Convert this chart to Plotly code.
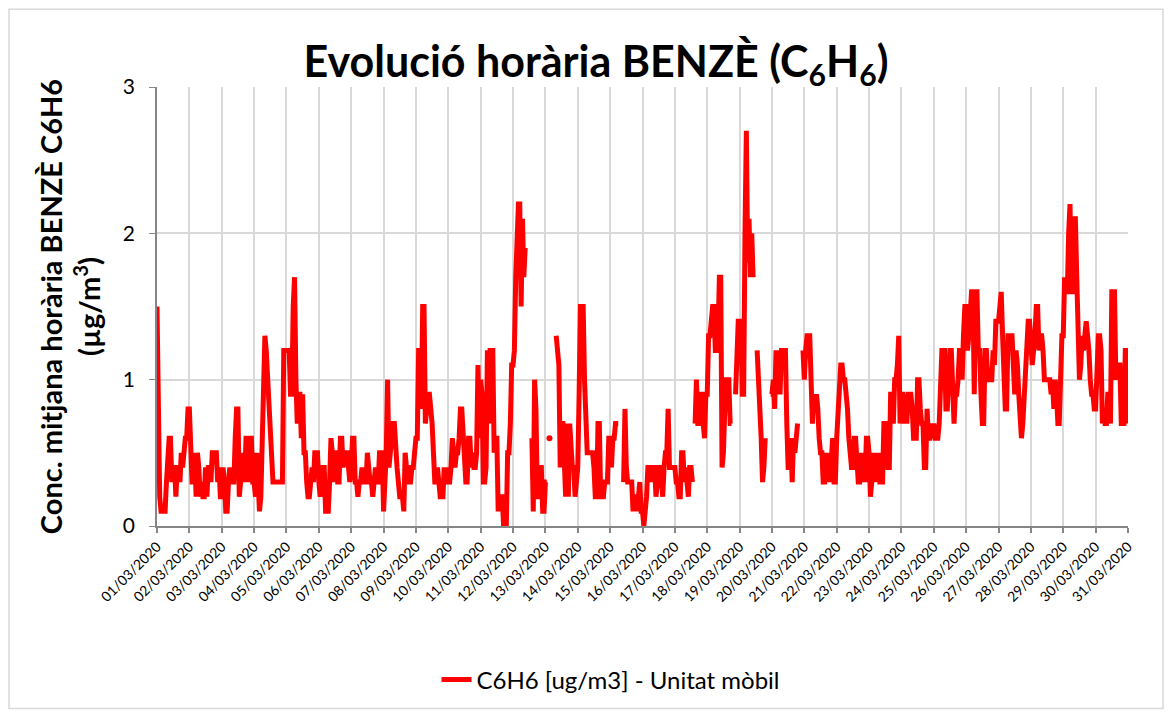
import plotly.graph_objects as go
import pandas as pd

# Hourly benzene concentrations (µg/m3), one list per day of March 2020
d01 = [1.5,0.3,0.2,0.1,0.1,0.1,0.1,0.3,0.5,0.6,0.6,0.3,0.4,0.4,0.2,0.4,0.4,0.3,0.5,0.4,0.5,0.6,0.6,0.8]
d02 = [0.8,0.5,0.3,0.3,0.5,0.2,0.5,0.4,0.2,0.3,0.2,0.2,0.4,0.2,0.4,0.4,0.3,0.5,0.5,0.5,0.5,0.3,0.4,0.2]
d03 = [0.2,0.4,0.3,0.1,0.1,0.3,0.4,0.3,0.3,0.3,0.6,0.8,0.8,0.2,0.3,0.5,0.4,0.3,0.6,0.6,0.3,0.6,0.6,0.3]
d04 = [0.3,0.2,0.5,0.3,0.1,0.2,0.6,1.0,1.3,1.2,1.0,0.8,0.6,0.4,0.3,0.3,0.3,0.3,0.3,0.3,0.3,0.3,1.2,1.2]
d05 = [1.2,1.2,1.2,0.9,0.9,1.5,1.7,1.0,0.7,0.9,0.9,0.6,0.9,0.5,0.5,0.3,0.2,0.2,0.3,0.4,0.3,0.5,0.5,0.5]
d06 = [0.3,0.2,0.3,0.4,0.4,0.1,0.1,0.1,0.3,0.6,0.5,0.3,0.5,0.5,0.3,0.3,0.6,0.6,0.4,0.5,0.5,0.5,0.4,0.3]
d07 = [0.4,0.6,0.6,0.3,0.3,0.2,0.3,0.3,0.4,0.3,0.3,0.3,0.5,0.4,0.3,0.3,0.2,0.3,0.4,0.3,0.3,0.5,0.5,0.5]
d08 = [0.1,0.3,0.5,1.0,0.4,0.5,0.6,0.7,0.7,0.5,0.4,0.3,0.2,0.2,0.2,0.1,0.5,0.4,0.4,0.3,0.3,0.4,0.4,0.5]
d09 = [0.6,0.6,1.2,1.2,0.8,1.5,1.5,0.7,0.8,0.9,0.9,0.8,0.7,0.5,0.3,0.3,0.4,0.3,0.2,0.2,0.2,0.4,0.3,0.4]
d10 = [0.3,0.3,0.4,0.6,0.5,0.4,0.5,0.5,0.6,0.8,0.8,0.6,0.5,0.3,0.3,0.6,0.6,0.4,0.5,0.4,0.4,0.5,1.1,0.6]
d11 = [1.0,0.9,0.3,0.3,0.4,1.2,0.7,1.2,1.2,1.2,0.5,0.6,0.6,0.1,0.2,0.2,0.2,0.0,0.0,0.0,0.5,0.5,0.7,1.1]
d12 = [1.1,1.2,1.7,2.0,2.2,2.2,1.5,2.1,1.7,1.9,None,None,None,None,0.6,0.1,1.0,0.8,0.2,0.2,0.4,0.4,0.1,0.1]
d13 = [0.3,0.3,None,0.6,None,None,None,None,1.3,1.2,1.1,0.4,0.7,0.7,0.4,0.2,0.7,0.2,0.7,0.5,0.4,0.4,0.2,0.3]
d14 = [0.4,0.9,1.5,1.5,1.5,1.0,0.6,0.5,0.5,0.5,0.5,0.5,0.4,0.2,0.2,0.7,0.7,0.2,0.2,0.2,0.3,0.3,0.3,0.6]
d15 = [0.6,0.4,0.6,0.6,0.7,0.7,0.7,None,None,None,0.3,0.8,0.4,0.3,0.3,0.3,0.3,0.1,0.2,0.2,0.1,0.2,0.3,0.1]
d16 = [0.1,0.0,0.1,0.2,0.4,0.4,0.4,0.3,0.4,0.4,0.2,0.3,0.4,0.4,0.3,0.2,0.4,0.5,0.5,0.8,0.4,0.4,0.4,0.4]
d17 = [0.4,0.3,0.3,0.2,0.2,0.5,0.5,0.3,0.4,0.3,0.2,0.4,0.4,0.3,None,0.7,1.0,0.7,0.7,0.9,0.9,0.7,0.6,0.9]
d18 = [0.9,1.3,1.3,1.4,1.5,1.5,1.2,1.2,1.3,1.7,1.7,0.4,0.5,0.8,1.0,1.0,1.0,0.7,0.7,None,None,0.9,1.3,1.4]
d19 = [1.4,1.4,0.9,0.9,2.0,2.7,1.8,2.1,1.7,2.0,1.7,None,None,1.2,1.0,0.9,0.6,0.3,0.4,0.6,None,None,None,0.9]
d20 = [0.9,1.0,0.8,1.2,1.0,1.2,0.9,1.2,1.2,1.2,1.2,0.7,0.4,0.4,0.6,0.3,0.6,0.5,0.6,0.7,None,None,None,1.2]
d21 = [1.0,1.2,1.3,1.3,1.3,1.0,0.7,0.9,0.8,0.9,0.8,0.6,0.5,0.5,0.3,0.3,0.5,0.3,0.5,0.3,0.5,0.6,0.3,0.3]
d22 = [0.6,0.8,0.9,1.1,1.1,1.0,1.0,0.9,0.8,0.6,0.5,0.4,0.4,0.6,0.6,0.4,0.3,0.3,0.5,0.3,0.4,0.3,0.6,0.6]
d23 = [0.5,0.2,0.3,0.5,0.3,0.5,0.3,0.5,0.3,0.3,0.3,0.7,0.7,0.7,0.4,0.4,0.9,0.9,0.7,1.0,1.0,1.1,1.3,0.7]
d24 = [0.9,0.9,0.7,0.9,0.7,0.9,0.9,0.9,0.8,0.6,0.6,0.6,1.0,1.0,0.8,0.7,0.7,0.4,0.4,0.8,0.6,0.6,0.7,0.6]
d25 = [0.7,0.6,0.6,0.6,0.7,0.9,1.2,1.2,1.2,0.8,0.8,1.0,1.2,1.2,0.8,0.7,0.9,0.9,1.0,1.2,1.2,1.0,1.3,1.5]
d26 = [1.5,1.2,1.3,1.5,1.6,1.6,0.9,1.6,1.6,1.2,1.2,0.9,0.7,0.7,1.2,1.2,1.0,1.0,1.0,1.0,1.2,1.1,1.4,1.4]
d27 = [1.4,1.5,1.6,1.3,1.1,0.8,0.8,1.3,1.3,1.3,1.3,1.1,0.9,1.2,1.1,0.9,0.7,0.6,0.7,0.9,1.0,1.2,1.4,1.4]
d28 = [1.2,1.1,1.2,1.3,1.5,1.5,1.2,1.3,1.3,1.2,1.0,1.0,1.0,1.0,1.0,0.9,1.0,0.8,1.0,0.9,0.7,0.7,1.0,1.3]
d29 = [1.3,1.7,1.6,1.6,2.0,2.2,1.6,1.6,2.1,2.1,1.7,1.2,1.0,1.1,1.3,1.2,1.3,1.4,1.3,1.2,1.0,0.9,0.9,0.8]
d30 = [0.8,1.0,1.3,1.3,1.2,0.7,0.8,0.7,0.7,0.9,0.9,0.7,1.6,1.6,1.6,1.0,1.1,1.1,1.1,0.7,0.7,0.7,1.2,1.2]
d31 = [0.7]

days = [d01,d02,d03,d04,d05,d06,d07,d08,d09,d10,d11,d12,d13,d14,d15,
        d16,d17,d18,d19,d20,d21,d22,d23,d24,d25,d26,d27,d28,d29,d30,d31]
values = [v for d in days for v in d]
times = pd.date_range("2020-03-01 00:00", periods=len(values), freq="h")

day_ticks = pd.date_range("2020-03-01", "2020-03-31", freq="D")
tick_text = [t.strftime("%d/%m/%Y") for t in day_ticks]

series_name = "C6H6 [ug/m3] - Unitat mòbil"
RED = "#FF0000"
FONT = "Lato"

# isolated points (neighbours missing) drawn as dots
iso_x, iso_y = [], []
for i, v in enumerate(values):
    if v is None:
        continue
    prev_missing = i == 0 or values[i - 1] is None
    next_missing = i == len(values) - 1 or values[i + 1] is None
    if prev_missing and next_missing:
        iso_x.append(times[i]); iso_y.append(v)

fig = go.Figure()
fig.add_trace(go.Scatter(x=times, y=values, mode="lines", name=series_name,
                         line=dict(color=RED, width=5), connectgaps=False))
fig.add_trace(go.Scatter(x=iso_x, y=iso_y, mode="markers", showlegend=False,
                         marker=dict(color=RED, size=6)))

# page body has an 8px margin; screen plot area is x 157..1128, y 87..527
OFF = 8
W, H = 1175 - OFF, 713 - OFF
L, T = 157 - OFF, 87 - OFF
R = W - (1128 - OFF)
B = H - (527 - OFF)
pw, ph = W - L - R, H - T - B

def px(xs):
    return (xs - OFF - L) / pw

def py(ys):
    return (H - B - (ys - OFF)) / ph

fig.update_layout(
    width=W, height=H,
    margin=dict(l=L, r=R, t=T, b=B),
    paper_bgcolor="white", plot_bgcolor="white",
    font=dict(family=FONT, color="black"),
    title=dict(text="<b>Evolució horària BENZÈ (C<sub>6</sub>H<sub>6</sub>)</b>",
               x=(596 - OFF) / W, xref="container", xanchor="center",
               y=1 - (62 - OFF) / H, yref="container", yanchor="middle",
               font=dict(size=43, family=FONT, color="black")),
    showlegend=True,
    legend=dict(orientation="h", x=px(611), y=py(680), xanchor="center", yanchor="middle",
                font=dict(size=24, family=FONT, color="black"), bgcolor="rgba(0,0,0,0)"),
    xaxis=dict(type="date", range=[day_ticks[0], day_ticks[-1]],
               tickmode="array", tickvals=list(day_ticks), ticktext=tick_text,
               tickangle=-45, tickfont=dict(size=14, family=FONT, color="black"),
               showgrid=True, gridcolor="#D9D9D9", gridwidth=1.5,
               showline=True, linecolor="#868686", linewidth=2,
               ticks="outside", ticklen=5, tickcolor="#868686", tickwidth=1.5,
               zeroline=False),
    yaxis=dict(range=[0, 3], tickvals=[0, 1, 2, 3], ticktext=["0", "1", "2", "3"],
               tickfont=dict(size=21, family=FONT, color="black"),
               ticklabelstandoff=10,
               showgrid=True, gridcolor="#D9D9D9", gridwidth=1.5,
               showline=True, linecolor="#868686", linewidth=1.5,
               ticks="outside", ticklen=6, tickcolor="#868686",
               zeroline=False,
               title=dict(text="<b>Conc. mitjana horària BENZÈ C6H6<br>(µg/m<sup>3</sup>)</b>",
                          font=dict(size=29, family=FONT, color="black"), standoff=14)),
    shapes=[dict(type="rect", xref="paper", yref="paper",
                 x0=px(9), x1=px(1163), y0=py(710), y1=py(9),
                 line=dict(color="#D9D9D9", width=1.5), fillcolor="rgba(0,0,0,0)",
                 layer="below")],
)

fig.write_html("out.html")
